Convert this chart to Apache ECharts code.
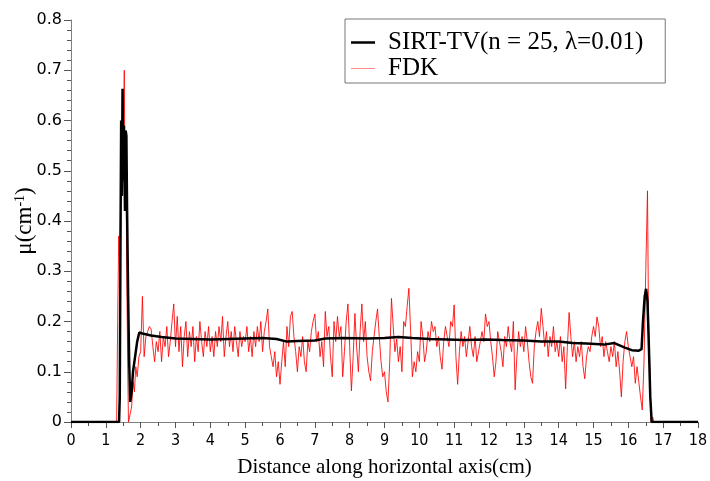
<!DOCTYPE html>
<html><head><meta charset="utf-8">
<script src="https://cdn.jsdelivr.net/npm/echarts@6.0.0/dist/echarts.min.js"></script>
<style>html,body{margin:0;padding:0;background:#fff}#c{width:710px;height:481px}</style>
</head><body><div id="c"></div>
<script>
const seriesNames = ['SIRT-TV(n = 25, \u03bb=0.01)', 'FDK'];
const xAxisTitle = 'Distance along horizontal axis(cm)';

// SIRT-TV profile: [distance cm, mu]
const sirtTV = [[0,0],[1.38,0],[1.40,0.05],[1.42,0.35],[1.44,0.6],[1.46,0.45],[1.48,0.663],[1.50,0.48],[1.52,0.59],[1.55,0.42],[1.57,0.58],[1.59,0.57],[1.61,0.42],[1.64,0.25],[1.67,0.12],[1.70,0.04],[1.74,0.06],[1.78,0.1],[1.84,0.13],[1.9,0.16],[1.96,0.178],[2.05,0.176],[2.3,0.172],[2.6,0.169],[3.0,0.166],[3.5,0.165],[4.0,0.164],[4.5,0.165],[5.0,0.166],[5.5,0.167],[5.9,0.165],[6.2,0.16],[6.5,0.161],[7.0,0.162],[7.3,0.166],[7.8,0.167],[8.5,0.166],[9.0,0.167],[9.4,0.169],[9.8,0.167],[10.3,0.165],[10.8,0.164],[11.3,0.163],[11.9,0.164],[12.4,0.163],[13.0,0.162],[13.5,0.16],[14.0,0.16],[14.4,0.157],[14.8,0.156],[15.3,0.154],[15.6,0.157],[15.9,0.148],[16.1,0.143],[16.3,0.142],[16.38,0.145],[16.42,0.2],[16.47,0.25],[16.51,0.265],[16.55,0.24],[16.59,0.15],[16.63,0.05],[16.67,0],[18,0]];

// FDK profile: left edge, noisy interior sampled every 0.05 cm from 2.0 cm, right edge
const fdkHead = [[0,0],[1.31,0],[1.34,0.2],[1.37,0.37],[1.40,0.3],[1.43,0.45],[1.46,0.6],[1.49,0.5],[1.53,0.7],[1.55,0.45],[1.57,0.58],[1.60,0.3],[1.63,0.1],[1.65,0.0],[1.70,0.0],[1.74,0.03],[1.78,0.08],[1.82,0.06],[1.86,0.11],[1.90,0.09],[1.95,0.13]];
const fdkNoiseStart = 2.0;
const fdkNoiseStep = 0.05;
const fdkNoise = [
0.14,0.25,0.13,0.17,0.18,0.19,0.185,0.15,0.12,0.16,0.14,0.18,0.12,0.17,0.15,0.19,0.13,0.16,0.2,0.235,
0.15,0.21,0.14,0.19,0.11,0.17,0.2,0.13,0.18,0.15,0.19,0.12,0.17,0.14,0.2,0.16,0.13,0.18,0.15,0.19,
0.14,0.17,0.13,0.18,0.15,0.19,0.16,0.21,0.13,0.17,0.2,0.15,0.18,0.14,0.19,0.16,0.13,0.18,0.15,0.17,
0.16,0.19,0.14,0.17,0.13,0.18,0.15,0.19,0.16,0.2,0.14,0.18,0.2,0.225,0.15,0.13,0.11,0.14,0.09,0.12,
0.075,0.12,0.16,0.11,0.19,0.15,0.21,0.22,0.17,0.14,0.1,0.15,0.13,0.17,0.12,0.1,0.16,0.14,0.18,0.2,
0.215,0.16,0.18,0.13,0.16,0.11,0.22,0.17,0.19,0.13,0.09,0.2,0.16,0.21,0.17,0.19,0.09,0.14,0.2,0.235,
0.15,0.062,0.13,0.216,0.15,0.1,0.18,0.235,0.16,0.2,0.13,0.1,0.082,0.14,0.17,0.2,0.225,0.17,0.12,0.09,
0.1,0.06,0.04,0.12,0.246,0.19,0.14,0.165,0.12,0.15,0.1,0.2,0.19,0.23,0.266,0.18,0.09,0.12,0.1,0.14,
0.12,0.2,0.17,0.12,0.14,0.18,0.16,0.2,0.18,0.19,0.15,0.17,0.13,0.105,0.16,0.19,0.17,0.15,0.2,0.19,
0.233,0.13,0.075,0.14,0.18,0.15,0.17,0.13,0.16,0.19,0.15,0.13,0.17,0.12,0.12,0.16,0.18,0.16,0.215,0.19,
0.2,0.16,0.13,0.09,0.12,0.18,0.16,0.14,0.11,0.17,0.15,0.19,0.16,0.14,0.2,0.064,0.13,0.18,0.15,0.17,
0.14,0.19,0.16,0.12,0.09,0.077,0.15,0.18,0.2,0.17,0.226,0.19,0.15,0.18,0.13,0.17,0.15,0.19,0.14,0.16,
0.13,0.17,0.12,0.15,0.066,0.15,0.218,0.17,0.13,0.16,0.12,0.15,0.13,0.16,0.11,0.086,0.13,0.15,0.14,0.17,
0.19,0.17,0.209,0.19,0.15,0.17,0.13,0.16,0.14,0.12,0.15,0.13,0.16,0.11,0.14,0.1,0.05,0.12,0.16,0.18,
0.15,0.13,0.11,0.13,0.077,0.11,0.08,0.05];
const fdkTail = [[16.40,0.024],[16.45,0.12],[16.50,0.3],[16.55,0.46],[16.58,0.2],[16.62,0.1],[16.65,0.0],[16.70,0.01],[16.73,0],[18,0]];

const fdk = fdkHead
  .concat(fdkNoise.map((v, i) => [Math.round((fdkNoiseStart + i * fdkNoiseStep) * 1000) / 1000, v]))
  .concat(fdkTail);

const chart = echarts.init(document.getElementById('c'), null, {renderer: 'canvas'});
const labelFont = 'DejaVu Sans Condensed, DejaVu Sans, sans-serif';
const serif = 'Liberation Serif, Times New Roman, serif';
chart.setOption({
  animation: false,
  backgroundColor: '#fff',
  grid: {left: 71, right: 12, top: 20, bottom: 59, containLabel: false, outerBoundsMode: 'none'},
  legend: {
    orient: 'vertical', left: 345, top: 19,
    padding: [11, 22, 2, 6],
    borderColor: '#777', borderWidth: 1, backgroundColor: '#fff',
    itemWidth: 24, itemHeight: 10, itemGap: 1,
    textStyle: {fontFamily: serif, fontSize: 25, color: '#000', padding: [0, 0, 0, 8]},
    data: [
      {name: seriesNames[0], icon: 'path://M0,0L24,0L24,2.5L0,2.5Z', itemStyle: {color: '#000'}},
      {name: seriesNames[1], icon: 'path://M0,0L24,0L24,1L0,1Z', itemStyle: {color: '#ff8a8a'}}
    ]
  },
  xAxis: {
    type: 'value', min: 0, max: 18, interval: 1,
    name: xAxisTitle, nameLocation: 'middle', nameGap: 35, nameMoveOverlap: false,
    nameTextStyle: {fontFamily: serif, fontSize: 21, color: '#000'},
    axisLine: {show: true, lineStyle: {color: '#808080', width: 1}},
    axisTick: {show: true, length: 6, lineStyle: {color: '#555'}},
    minorTick: {show: true, splitNumber: 2, length: 4, lineStyle: {color: '#555'}},
    splitLine: {show: false},
    axisLabel: {fontFamily: labelFont, fontSize: 16, color: '#000', margin: 11}
  },
  yAxis: {
    type: 'value', min: 0, max: 0.8, interval: 0.1,
    name: '{a|\u03bc(cm}{s|-1}{a|)}', nameLocation: 'middle', nameGap: 35, nameRotate: 90,
    nameMoveOverlap: false,
    nameTextStyle: {
      fontFamily: serif, fontSize: 23, color: '#000',
      rich: {
        a: {fontFamily: serif, fontSize: 23, color: '#000'},
        s: {fontFamily: serif, fontSize: 14, color: '#000', verticalAlign: 'top', padding: [0, 0, 8, 0]}
      }
    },
    axisLine: {show: true, lineStyle: {color: '#808080', width: 1}},
    axisTick: {show: true, length: 7, lineStyle: {color: '#555'}},
    minorTick: {show: true, splitNumber: 5, length: 4, lineStyle: {color: '#555'}},
    splitLine: {show: false},
    axisLabel: {fontFamily: 'DejaVu Sans, sans-serif', fontSize: 16, color: '#000', margin: 9,
      formatter: v => v === 0 ? '0' : v.toFixed(1)}
  },
  series: [
    {name: seriesNames[0], type: 'line', data: sirtTV, symbol: 'none', z: 3,
     lineStyle: {color: '#000', width: 2.5}, itemStyle: {color: '#000'}},
    {name: seriesNames[1], type: 'line', data: fdk, symbol: 'none', z: 2,
     lineStyle: {color: '#ff0000', width: 1, opacity: 0.85}, itemStyle: {color: '#ff8a8a'}}
  ]
});
</script></body></html>
